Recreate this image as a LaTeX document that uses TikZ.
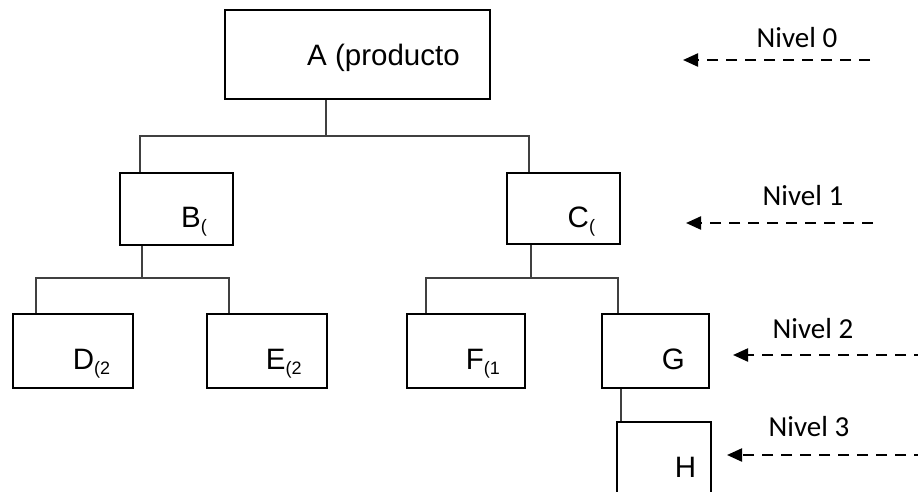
\documentclass[tikz,border=0pt]{standalone}
\usepackage{fontspec}
\setmainfont{Liberation Sans}
\newfontfamily\calibri{Carlito}
\usepackage{tikz}
\usetikzlibrary{arrows.meta, positioning}

\newcommand{\bajo}[1]{\raisebox{-5pt}{\fontsize{18}{18}\selectfont #1}}

\tikzset{
  caja/.style={draw, line width=2pt, rectangle, inner sep=0pt},
  rama/.style={draw=black!75, line width=1.1pt},
  texto/.style={anchor=base west, inner sep=0pt},
  nivel/.style={line width=2.2pt, dash pattern=on 11pt off 8pt,
                -{Triangle[length=15pt, width=13pt]}},
  etiq/.style={anchor=base, inner sep=0pt, font=\calibri\fontsize{29}{30}\selectfont}
}

\begin{document}
\begin{tikzpicture}[x=1pt, y=-1pt, font=\fontsize{29.5}{30}\selectfont]
  \useasboundingbox (0,0) rectangle (918,491);
  \clip (0,0) rectangle (918,491);

  \coordinate (jA) at (326,136);
  \coordinate (jB) at (142,278);
  \coordinate (jC) at (531,278);

  \foreach \n/\x/\y/\w/\h in {A/357.5/54.5/265/89, B/176.5/209/113/72,
      C/563.5/208.5/113/71, D/73/351/120/74, E/267/351/120/74,
      F/466/351/118/74, G/655.5/351/107/74, H/664/459/94/74}
    \node[caja, minimum width=\w, minimum height=\h] (\n) at (\x,\y) {};

  \node[texto] (tA) at (307,65) {A (producto};
  \node[texto] (tB) at (181,227) {B\bajo{(}};
  \node[texto] (tC) at (567.5,227) {C\bajo{(}};
  \node[texto] (tD) at (72.7,369) {D\bajo{(2}};
  \node[texto] (tE) at (265.7,369) {E\bajo{(2}};
  \node[texto] (tF) at (465.6,369) {F\bajo{(1}};
  \node[texto] (tG) at (661.6,369) {G};
  \node[texto] (tH) at (674.6,477) {H};

  \draw[rama] (A.south -| jA) -- (jA);
  \draw[rama] ([xshift=21pt]B.north west) |- (jA) -| ([xshift=23pt]C.north west);
  \draw[rama] (B.south -| jB) -- (jB);
  \draw[rama] ([xshift=24pt]D.north west) |- (jB) -| ([xshift=23pt]E.north west);
  \draw[rama] (C.south -| jC) -- (jC);
  \draw[rama] ([xshift=20pt]F.north west) |- (jC) -| ([xshift=17pt]G.north west);
  \draw[rama] ([xshift=20pt]G.south west) -- ([xshift=5pt]H.north west);

  \foreach \k/\xa/\xb/\y/\xl/\yl in {0/683/870/60/797/47, 1/686/873/223/803/205,
      2/733/925/355/813/338, 3/727/925/455/809/436} {
    \coordinate (p\k) at (\xb,\y);
    \coordinate (q\k) at (\xa,\y);
    \draw[nivel] (p\k) -- (q\k);
    \node[etiq] (n\k) at (\xl,\yl) {Nivel \k};
  }
\end{tikzpicture}
\end{document}
